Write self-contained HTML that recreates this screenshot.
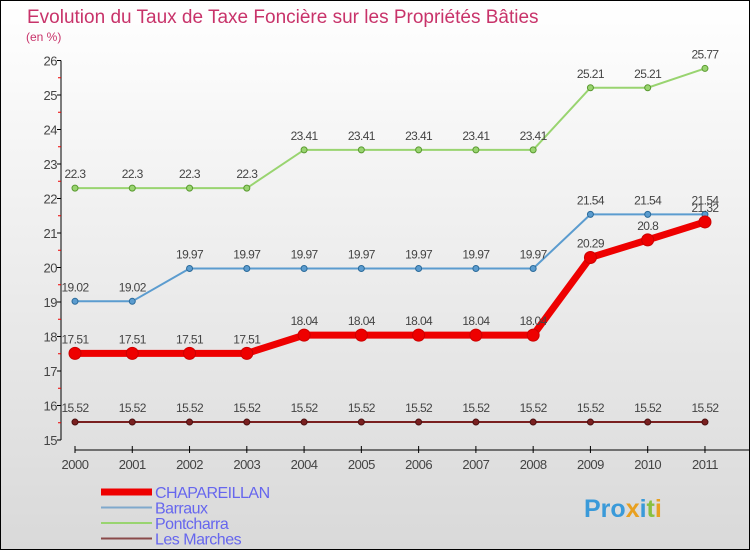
<!DOCTYPE html>
<html><head><meta charset="utf-8"><style>
body{margin:0}
#c{width:748px;height:548px;border:1px solid #000;background:linear-gradient(#fff,#d9d9d9);position:relative;font-family:"Liberation Sans",sans-serif}
</style></head><body>
<div id="c">
<svg id="s" width="748" height="548">
<text x="26" y="22" font-size="19" fill="#c8336a">Evolution du Taux de Taxe Foncière sur les Propriétés Bâties</text>
<text x="25" y="40" font-size="12" fill="#c8336a">(en %)</text>
<g id="g"></g>
</svg>
</div>
<script>
const years=["2000","2001","2002","2003","2004","2005","2006","2007","2008","2009","2010","2011"];
const yTicks=[15,16,17,18,19,20,21,22,23,24,25,26];
const chap=[17.51,17.51,17.51,17.51,18.04,18.04,18.04,18.04,18.04,20.29,20.8,21.32];
const barraux=[19.02,19.02,19.97,19.97,19.97,19.97,19.97,19.97,19.97,21.54,21.54,21.54];
const pont=[22.3,22.3,22.3,22.3,23.41,23.41,23.41,23.41,23.41,25.21,25.21,25.77];
const marches=[15.52,15.52,15.52,15.52,15.52,15.52,15.52,15.52,15.52,15.52,15.52,15.52];
const labels={chap:["17.51","17.51","17.51","17.51","18.04","18.04","18.04","18.04","18.04","20.29","20.8","21.32"],
barraux:["19.02","19.02","19.97","19.97","19.97","19.97","19.97","19.97","19.97","21.54","21.54","21.54"],
pont:["22.3","22.3","22.3","22.3","23.41","23.41","23.41","23.41","23.41","25.21","25.21","25.77"],
marches:marches.map(v=>v.toFixed(2))};
const X=i=>74+i*57.27, Y=v=>439-(v-15)*34.5;
const g=document.getElementById('g');const NS="http://www.w3.org/2000/svg";
function el(t,a,n){const e=document.createElementNS(NS,t);for(const k in a)e.setAttribute(k,a[k]);


g.appendChild(e);return e;}
el('line',{x1:60,y1:Y(26),x2:60,y2:Y(15),stroke:'#000'},'y-axis');
yTicks.forEach(v=>{el('line',{x1:56,y1:Y(v),x2:60,y2:Y(v),stroke:'#000'},'y-tick');
const t=el('text',{x:56,y:Y(v)+5,'font-size':13,fill:'#444','text-anchor':'end','letter-spacing':'-0.5'},'y-tick-label');t.textContent=v;
if(v<26)el('line',{x1:57,y1:Y(v+0.5),x2:60,y2:Y(v+0.5),stroke:'#e00'},'y-minor-tick');});
el('line',{x1:X(0),y1:449,x2:748,y2:449,stroke:'#000'},'x-axis');
years.forEach((y,i)=>{el('line',{x1:X(i),y1:445,x2:X(i),y2:452,stroke:'#000'},'x-tick');
const t=el('text',{x:X(i),y:468,'font-size':13,fill:'#444','text-anchor':'middle','letter-spacing':'-0.5'},'x-tick-label');t.textContent=y;});
function series(d,lab,col,w,r,name,oc){
el('polyline',{points:d.map((v,i)=>X(i)+','+Y(v)).join(' '),fill:'none',stroke:col,'stroke-width':w},name+'-line');
d.forEach((v,i)=>{el('circle',{cx:X(i),cy:Y(v),r:r,fill:col,stroke:oc,'stroke-width':1},name+'-point');
const t=el('text',{x:X(i),y:Y(v)-10,'font-size':12,fill:'#444','text-anchor':'middle','letter-spacing':'-0.6'},name+'-value');t.textContent=lab[i];});}
series(marches,labels.marches,'#7a2020',2,3,'les-marches','#4a1010');
series(pont,labels.pont,'#99d470',2,3,'pontcharra','#5a9a30');
series(barraux,labels.barraux,'#5b9ccf',2,3,'barraux','#2a6a9a');
series(chap,labels.chap,'#ee0000',7,6,'chapareillan','#cc0000');
const leg=[["CHAPAREILLAN","#ee0000",7],["Barraux","#7fa9cc",2],["Pontcharra","#99d470",2],["Les Marches","#8a4a4a",2]];
leg.forEach((l,i)=>{const y=491+i*15.5;
el('line',{x1:100,y1:y,x2:151,y2:y,stroke:l[1],'stroke-width':l[2]},'legend-swatch');
const t=el('text',{x:154,y:y+6,'font-size':16,fill:'#6666ee','letter-spacing':'-0.5'},'legend-entry');t.textContent=l[0];});
const p=el('text',{x:583,y:516,'font-size':25,'font-weight':'bold',fill:'#3a9ad9'},'proxiti-logo');
p.innerHTML='<tspan fill="#3a9ad9">Pro</tspan><tspan fill="#e8a020">x</tspan><tspan fill="#3a9ad9">i</tspan><tspan fill="#88c040">t</tspan><tspan fill="#e8a020">i</tspan>';
</script>
</body></html>
